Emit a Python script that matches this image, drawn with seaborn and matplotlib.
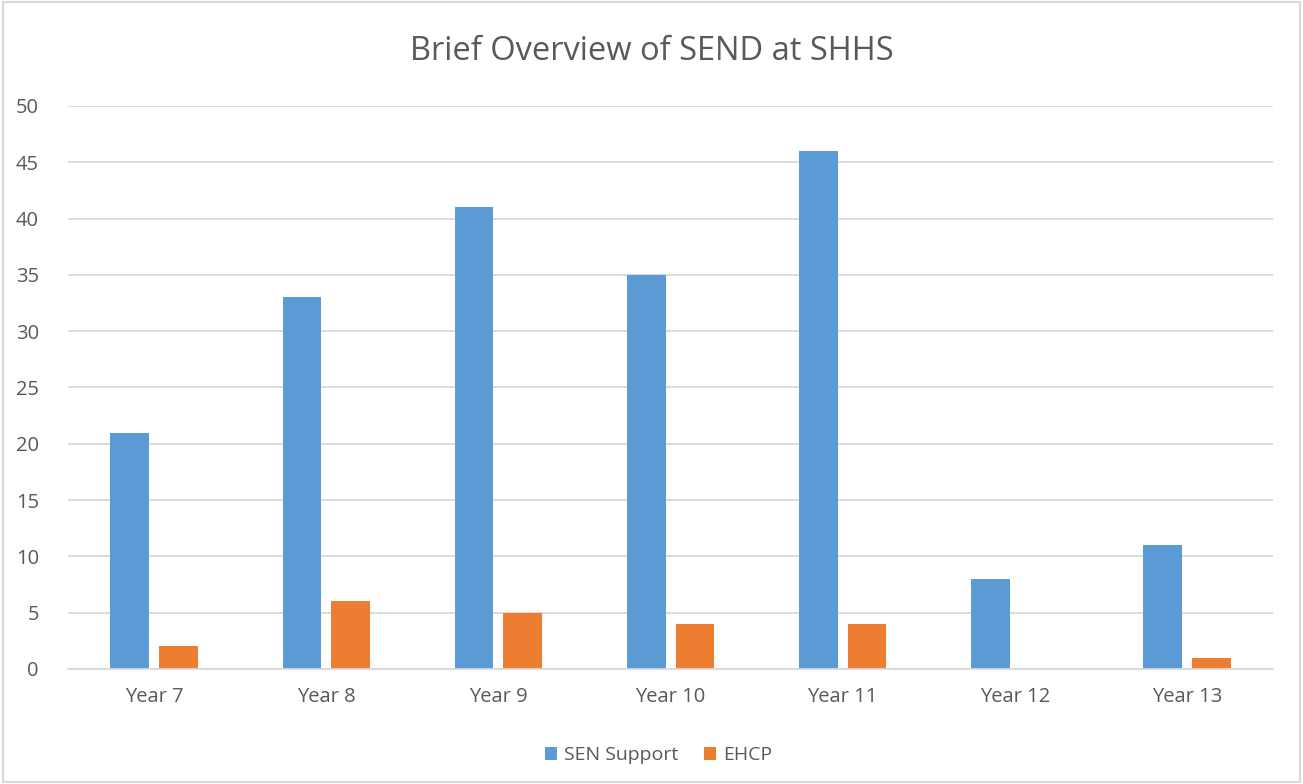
import pandas as pd
import seaborn as sns
import matplotlib.pyplot as plt
from matplotlib.patches import Rectangle

# data
years = ["Year 7", "Year 8", "Year 9", "Year 10", "Year 11", "Year 12", "Year 13"]
sen_support = [21, 33, 41, 35, 46, 8, 11]
ehcp = [2, 6, 5, 4, 4, 0, 1]

df = pd.DataFrame({"year": years, "SEN Support": sen_support, "EHCP": ehcp})
long_df = df.melt(id_vars="year", var_name="group", value_name="count")

sns.set_theme(style="white")
plt.rcParams["font.family"] = ["Open Sans", "DejaVu Sans"]

text_col = "#595959"
grid_col = "#D9D9D9"

fig = plt.figure(figsize=(13.03, 7.84), dpi=100)
ax = fig.add_axes([0.0522, 0.1467, 0.9248, 0.7181])

sns.barplot(data=long_df, x="year", y="count", hue="group",
            palette=["#5B9BD5", "#ED7D31"], width=0.566, gap=0.205,
            saturation=1, linewidth=0, ax=ax)

ax.set_ylim(0, 50)
ax.set_yticks(range(0, 51, 5))
ax.set_xlim(-0.5, len(years) - 0.5)
ax.yaxis.grid(True, color=grid_col, linewidth=1.3)
ax.set_axisbelow(True)
for s in ["top", "right", "left"]:
    ax.spines[s].set_visible(False)
ax.spines["bottom"].set_color(grid_col)
ax.spines["bottom"].set_linewidth(1.3)
ax.set_xlabel("")
ax.set_ylabel("")
ax.tick_params(axis="both", colors=text_col, labelsize=14.5, length=0)
ax.tick_params(axis="x", pad=13)
ax.tick_params(axis="y", pad=21)

fig.suptitle("Brief Overview of SEND at SHHS", y=0.955, fontsize=23.5, color=text_col)

ax.legend(loc="lower center", bbox_to_anchor=(0.49, -0.2), ncol=2, frameon=False,
          fontsize=14, labelcolor=text_col, handlelength=0.65, handleheight=0.65,
          columnspacing=1.3, handletextpad=0.35)

# thin frame around the whole chart
fig.patches.append(Rectangle((0.002, 0.002), 0.996, 0.996, transform=fig.transFigure,
                             fill=False, edgecolor=grid_col, linewidth=1.5))

plt.savefig("out.png", dpi=100)
